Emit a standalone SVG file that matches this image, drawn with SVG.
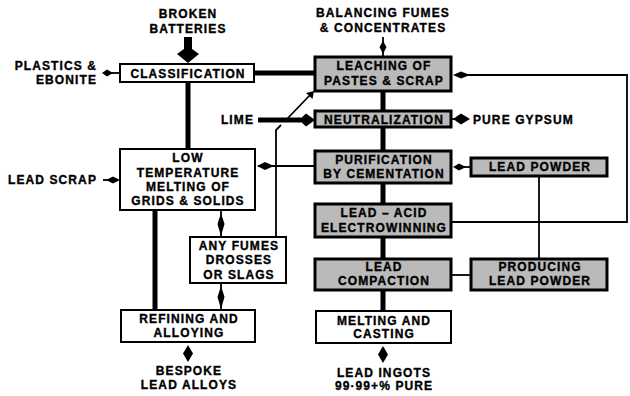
<svg xmlns="http://www.w3.org/2000/svg" width="630" height="396" viewBox="0 0 630 396">
<style>
text{font-family:"Liberation Sans",Arial,sans-serif;font-weight:bold;font-size:12px;letter-spacing:1.1px;fill:#000;stroke:#000;stroke-width:0.35px;text-anchor:middle}
.l{text-anchor:start}
.r{text-anchor:end}
.wb{fill:#fff;stroke:#000;stroke-width:2}
.gb{fill:#bababa;stroke:#000;stroke-width:3}
.thick{stroke:#000;stroke-width:5;fill:none}
.thin{stroke:#000;stroke-width:1.8;fill:none}
.dia{fill:#000}
</style>
<rect width="630" height="396" fill="#fff"/>
<g id="connectors">
  <line class="thick" x1="254" y1="73" x2="315" y2="73"/>
  <line class="thick" x1="188" y1="82" x2="188" y2="149"/>
  <line class="thick" x1="155" y1="210" x2="155" y2="310"/>
  <line class="thick" x1="383" y1="91" x2="383" y2="311"/>
  <line class="thick" x1="258" y1="120" x2="301" y2="120"/>
  <polygon class="dia" points="299,120 306,113.5 315,120 306,126.5"/>
  <line class="thin" x1="287" y1="119" x2="311" y2="94"/>
  <polygon class="dia" points="314,91 312.5,99 306,93"/>
  <path class="thin" d="M276,237 V130 L281,125"/>
  <path class="thin" d="M451,222 H627 V75 H458"/>
  <polygon class="dia" points="453,75 461,71.5 470,75 461,78.5"/>
  <line class="thin" x1="315" y1="166" x2="258" y2="166"/>
  <polygon class="dia" points="257,166 265,162 274,166 265,170"/>
  <line class="thin" x1="471" y1="167" x2="455" y2="167"/>
  <polygon class="dia" points="453,167 459,163.5 466,167 459,170.5"/>
  <line class="thin" x1="539" y1="176" x2="539" y2="259"/>
  <line class="thin" x1="451" y1="275" x2="471" y2="275"/>
  <line class="thin" x1="451" y1="119" x2="456" y2="119"/>
  <polygon class="dia" points="453,119 461,113.5 470,119 461,124.5"/>
  <line class="thin" x1="120" y1="73" x2="104" y2="73"/>
  <polygon class="dia" points="102,73 107,69.5 113,73 107,76.5"/>
  <line class="thin" x1="103" y1="180" x2="118" y2="180"/>
  <polygon class="dia" points="120,180 113,176.5 106,180 113,183.5"/>
  <line class="thin" x1="383" y1="37" x2="383" y2="56"/>
  <polygon class="dia" points="383,54 379.5,47 383,41 386.5,47"/>
  <line class="thin" x1="221" y1="210" x2="221" y2="237"/>
  <polygon class="dia" points="221,213 224.5,224 221,236 217.5,224"/>
  <line class="thin" x1="221" y1="283" x2="221" y2="310"/>
  <polygon class="dia" points="221,286 224.5,297 221,309 217.5,297"/>
  <rect x="184" y="37" width="8" height="12" fill="#000"/>
  <polygon class="dia" points="188,63 177,54 188,46 199,54"/>
  <polygon class="dia" points="188,345 193,353.5 188,362 183,353.5"/>
  <polygon class="dia" points="383,346 388,354.5 383,363 378,354.5"/>
</g>
<g id="broken-batteries"><text x="188" y="18">BROKEN</text><text x="188" y="32.5">BATTERIES</text></g>
<g id="plastics"><text class="r" x="97" y="70">PLASTICS &amp;</text><text class="r" x="97" y="84">EBONITE</text></g>
<g id="classification"><rect class="wb" x="120" y="64" width="134" height="18"/><text x="188" y="78">CLASSIFICATION</text></g>
<g id="balancing"><text x="383" y="17">BALANCING FUMES</text><text x="383" y="32">&amp; CONCENTRATES</text></g>
<g id="leaching"><rect class="gb" x="315" y="57" width="136" height="34"/><text x="384" y="70">LEACHING OF</text><text x="384" y="85">PASTES &amp; SCRAP</text></g>
<g id="lime"><text class="r" x="254" y="124">LIME</text></g>
<g id="neutralization"><rect class="gb" x="315" y="111" width="136" height="16"/><text x="384" y="124">NEUTRALIZATION</text></g>
<g id="gypsum"><text class="l" x="473" y="124">PURE GYPSUM</text></g>
<g id="low-temp"><rect class="wb" x="120" y="149" width="135" height="61"/><text x="188" y="162">LOW</text><text x="188" y="177">TEMPERATURE</text><text x="188" y="191">MELTING OF</text><text x="188" y="205">GRIDS &amp; SOLIDS</text></g>
<g id="lead-scrap"><text class="r" x="97" y="184">LEAD SCRAP</text></g>
<g id="purification"><rect class="gb" x="315" y="151" width="136" height="32"/><text x="384" y="164">PURIFICATION</text><text x="384" y="178">BY CEMENTATION</text></g>
<g id="lead-powder"><rect class="gb" x="471" y="158" width="136" height="18"/><text x="540" y="171">LEAD POWDER</text></g>
<g id="electrowinning"><rect class="gb" x="315" y="204" width="136" height="33"/><text x="384" y="217">LEAD – ACID</text><text x="384" y="232">ELECTROWINNING</text></g>
<g id="fumes"><rect class="wb" x="190" y="237" width="96" height="46"/><text x="239" y="250">ANY FUMES</text><text x="239" y="264">DROSSES</text><text x="239" y="279">OR SLAGS</text></g>
<g id="compaction"><rect class="gb" x="315" y="259" width="136" height="31"/><text x="384" y="271">LEAD</text><text x="384" y="285">COMPACTION</text></g>
<g id="producing"><rect class="gb" x="471" y="259" width="136" height="31"/><text x="540" y="271">PRODUCING</text><text x="540" y="285">LEAD POWDER</text></g>
<g id="refining"><rect class="wb" x="121" y="310" width="134" height="32"/><text x="189" y="323">REFINING AND</text><text x="189" y="337">ALLOYING</text></g>
<g id="melting"><rect class="wb" x="316" y="311" width="135" height="32"/><text x="384" y="325">MELTING AND</text><text x="384" y="338">CASTING</text></g>
<g id="bespoke"><text x="189" y="375">BESPOKE</text><text x="189" y="389">LEAD ALLOYS</text></g>
<g id="ingots"><text x="384" y="377">LEAD INGOTS</text><text x="384" y="390">99·99+% PURE</text></g>
</svg>
